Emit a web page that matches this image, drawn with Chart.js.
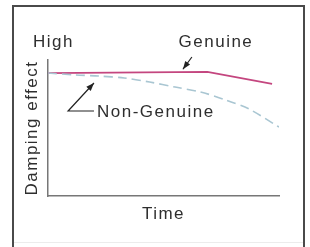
<!DOCTYPE html>
<html><head><meta charset="utf-8">
<script src="https://cdn.jsdelivr.net/npm/chart.js@4"></script>
<style>
html,body{margin:0;padding:0;background:#fff;width:310px;height:247px;overflow:hidden}
#frame{position:absolute;left:12px;top:5px;width:289px;height:260px;border:2px solid #4a4a4a;border-bottom:none}
#faint{position:absolute;left:14px;top:242px;width:289px;height:1px;background:#ececec}
#c{position:absolute;left:0;top:0}
</style></head><body>
<div id="frame"></div>
<div id="faint"></div>
<canvas id="c" width="310" height="247"></canvas>
<script>
// ---- data ----
const genuineTime = [0, 69, 97];
const genuineEffect = [90.4, 91.2, 82.4];
const nonGenuineTime = [0, 12, 22, 33, 44, 55, 66, 77, 87, 100];
const nonGenuineEffect = [90.4, 89, 88.2, 86.8, 83.8, 80.1, 76.5, 70.6, 64, 50.7];
const seriesNames = ['Genuine', 'Non-Genuine'];
const xAxisTitle = 'Time';
const yAxisTitle = 'Damping effect';
const yHighLabel = 'High';
// annotation anchors in data units
const genuineLabelAt = [72.7, 110];
const genuineArrow = [[62.3, 102.2], [58.4, 93.2]];
const nonGenuineLabelAt = [21.2, 58.1];
const nonGenuineArrow = [[19.9, 62.5], [8.7, 62.5], [19.9, 83.1]];

const FONT = '17px "Liberation Sans", Arial, sans-serif';
const TEXT = '#2e2e2e';

function arrowHead(ctx, from, to) {
  const a = Math.atan2(to[1] - from[1], to[0] - from[0]);
  const L = 8, W = 3;
  ctx.beginPath();
  ctx.moveTo(to[0], to[1]);
  ctx.lineTo(to[0] - L * Math.cos(a) + W * Math.sin(a), to[1] - L * Math.sin(a) - W * Math.cos(a));
  ctx.lineTo(to[0] - L * Math.cos(a) - W * Math.sin(a), to[1] - L * Math.sin(a) + W * Math.cos(a));
  ctx.closePath();
  ctx.fill();
}

const annot = {
  id: 'annot',
  afterDraw(chart) {
    const ctx = chart.ctx, ca = chart.chartArea;
    const xs = chart.scales.x, ys = chart.scales.y;
    const P = p => [xs.getPixelForValue(p[0]), ys.getPixelForValue(p[1])];
    ctx.save();
    ctx.fillStyle = TEXT;
    ctx.font = FONT;
    ctx.letterSpacing = '1.5px';
    ctx.textBaseline = 'alphabetic';
    // High
    ctx.textAlign = 'left';
    ctx.fillText(yHighLabel, ca.left - 15, ca.top - 13);
    // Genuine label
    ctx.textAlign = 'center';
    const g = P(genuineLabelAt);
    ctx.fillText(seriesNames[0], g[0], ca.top - 13);
    // Non-Genuine label
    ctx.textAlign = 'left';
    const n = P(nonGenuineLabelAt);
    ctx.fillText(seriesNames[1], n[0], n[1]);
    // Time
    ctx.textAlign = 'center';
    ctx.fillText(xAxisTitle, (ca.left + ca.right) / 2, ca.bottom + 23);
    // Damping effect
    ctx.save();
    ctx.translate(ca.left - 11, (ca.top + ca.bottom) / 2);
    ctx.rotate(-Math.PI / 2);
    ctx.textAlign = 'center';
    ctx.fillText(yAxisTitle, 0, 0);
    ctx.restore();
    // arrows
    ctx.strokeStyle = '#222';
    ctx.fillStyle = '#222';
    ctx.lineWidth = 1.2;
    const ga = genuineArrow.map(P);
    ctx.beginPath(); ctx.moveTo(ga[0][0], ga[0][1]); ctx.lineTo(ga[1][0], ga[1][1]); ctx.stroke();
    arrowHead(ctx, ga[0], ga[1]);
    const na = nonGenuineArrow.map(P);
    ctx.beginPath(); ctx.moveTo(na[0][0], na[0][1]); ctx.lineTo(na[1][0], na[1][1]); ctx.lineTo(na[2][0], na[2][1]); ctx.stroke();
    arrowHead(ctx, na[1], na[2]);
    ctx.restore();
  }
};

new Chart(document.getElementById('c'), {
  type: 'line',
  data: {
    datasets: [
      {
        label: seriesNames[1],
        data: nonGenuineTime.map((t, i) => ({x: t, y: nonGenuineEffect[i]})),
        borderColor: '#a9c6d2',
        borderWidth: 1.6,
        borderDash: [9, 5],
        pointRadius: 0,
        tension: 0.3,
        fill: false
      },
      {
        label: seriesNames[0],
        data: genuineTime.map((t, i) => ({x: t, y: genuineEffect[i]})),
        borderColor: '#c4467f',
        borderWidth: 1.8,
        pointRadius: 0,
        tension: 0,
        fill: false
      }
    ]
  },
  options: {
    responsive: false,
    animation: false,
    devicePixelRatio: 1,
    layout: {padding: {left: 48, right: 31, top: 60, bottom: 51}},
    plugins: {legend: {display: false}, tooltip: {enabled: false}},
    scales: {
      x: {
        type: 'linear', min: 0, max: 100,
        grid: {display: false, drawTicks: false},
        ticks: {display: false},
        border: {display: true, color: '#777', width: 1.5}
      },
      y: {
        type: 'linear', min: 0, max: 100,
        grid: {display: false, drawTicks: false},
        ticks: {display: false},
        border: {display: true, color: '#777', width: 1.5}
      }
    }
  },
  plugins: [annot]
});
</script>
</body></html>
